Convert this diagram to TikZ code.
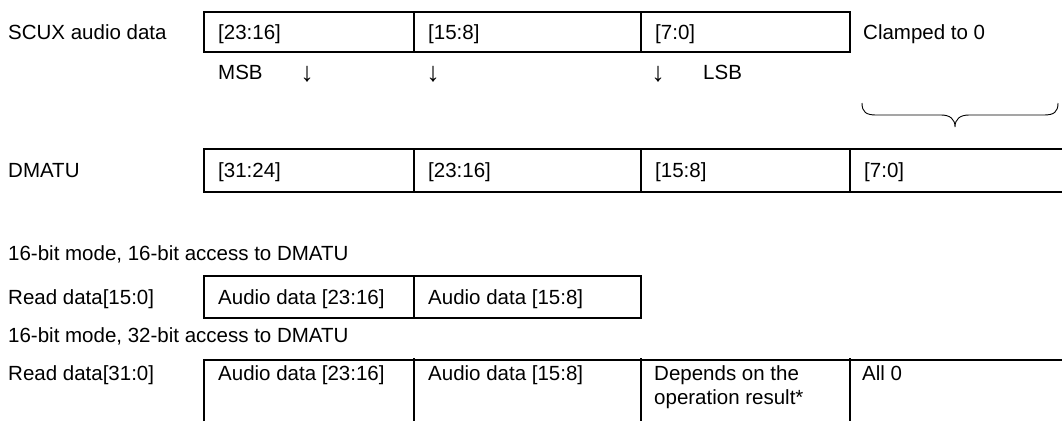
\documentclass[tikz,border=0pt]{standalone}
\usepackage{fontspec}
\setmainfont{Liberation Sans}
\begin{document}
\begin{tikzpicture}[x=1pt,y=-1pt,
  txt/.style={anchor=base west,inner sep=0pt,font=\fontsize{20.5}{24}\selectfont},
  arr/.style={anchor=base,inner sep=0pt,font=\fontsize{27}{30}\selectfont},
  frame/.style={line width=1.9pt},
  bracestyle/.style={line width=0.9pt}]
\useasboundingbox (0,0) rectangle (1062,421);
% row 1: SCUX audio data
\node[txt] (scux) at (8,39) {SCUX audio data};
\draw[frame] (204,12) rectangle (850,52);
\draw[frame] (414,12) -- (414,52) (641,12) -- (641,52);
\node[txt] (s1) at (218,39) {[23:16]};
\node[txt] (s2) at (428,39) {[15:8]};
\node[txt] (s3) at (655,39) {[7:0]};
\node[txt] (clamp) at (863,39) {Clamped to 0};
% row MSB/LSB
\node[txt] (msb) at (218,79) {MSB};
\node[arr] (a1) at (307,81) {↓};
\node[arr] (a2) at (433,81) {↓};
\node[arr] (a3) at (658,81) {↓};
\node[txt] (lsb) at (703,79) {LSB};
% brace
\coordinate (bl) at (862,103);
\coordinate (br) at (1058,103);
\coordinate (btip) at (955,127);
\draw[bracestyle] (bl) .. controls (862,112) and (866,115) .. (876,115) -- (941,115)
  .. controls (950,115) and (955,119) .. (btip)
  .. controls (955,119) and (960,115) .. (969,115) -- (1044,115)
  .. controls (1054,115) and (1058,112) .. (br);
% row 2: DMATU
\node[txt] (dmatu) at (8,177) {DMATU};
\draw[frame] (1062,149) -- (204,149) -- (204,192) -- (1062,192);
\draw[frame] (414,149) -- (414,192) (641,149) -- (641,192) (850,149) -- (850,192);
\node[txt] (d1) at (218,177) {[31:24]};
\node[txt] (d2) at (428,177) {[23:16]};
\node[txt] (d3) at (655,177) {[15:8]};
\node[txt] (d4) at (864,177) {[7:0]};
% 16-bit access
\node[txt] (m16) at (8,260) {16-bit mode, 16-bit access to DMATU};
\node[txt] (r15) at (8,304) {Read data[15:0]};
\draw[frame] (204,276) rectangle (641,318);
\draw[frame] (414,276) -- (414,318);
\node[txt] (r15a) at (218,304) {Audio data [23:16]};
\node[txt] (r15b) at (428,304) {Audio data [15:8]};
% 32-bit access
\node[txt] (m32) at (8,342) {16-bit mode, 32-bit access to DMATU};
\node[txt] (r31) at (8,380) {Read data[31:0]};
\draw[frame] (204,421) -- (204,360) -- (1062,360);
\draw[frame] (414,358) -- (414,421) (641,358) -- (641,421) (850,358) -- (850,421);
\node[txt] (r31a) at (218,380) {Audio data [23:16]};
\node[txt] (r31b) at (428,380) {Audio data [15:8]};
\node[txt,align=left] (r31c) at (654,404) {Depends on the\\operation result*};
\node[txt] (r31d) at (862,380) {All 0};
\end{tikzpicture}
\end{document}
